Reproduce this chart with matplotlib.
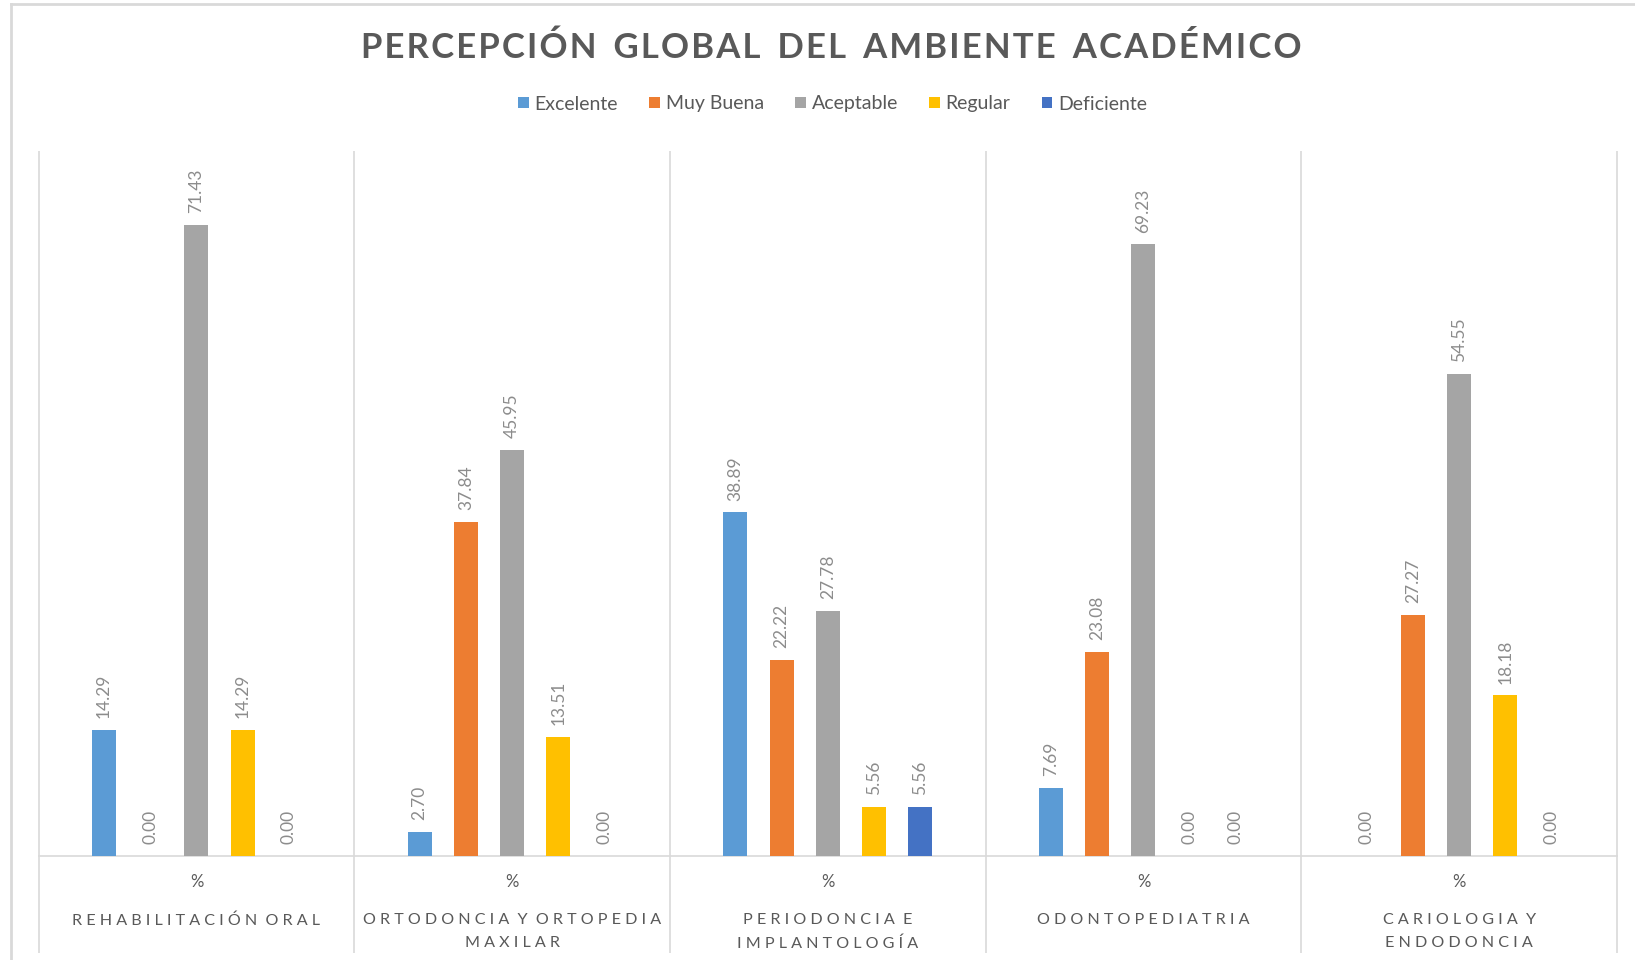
import matplotlib
matplotlib.use("Agg")
import matplotlib.pyplot as plt
from matplotlib.patches import Patch
from matplotlib.lines import Line2D

plt.rcParams['font.family'] = ['Lato', 'DejaVu Sans']

# ---------------- data ----------------
title = "PERCEPCIÓN  GLOBAL  DEL  AMBIENTE  ACADÉMICO"
categories = ["REHABILITACIÓN ORAL", "ORTODONCIA Y ORTOPEDIA\nMAXILAR",
              "PERIODONCIA E\nIMPLANTOLOGÍA", "ODONTOPEDIATRIA",
              "CARIOLOGIA Y\nENDODONCIA"]
sub_label = "%"
series_names = ["Excelente", "Muy Buena", "Aceptable", "Regular", "Deficiente"]
excelente = [14.29, 2.70, 38.89, 7.69, 0.00]
muy_buena = [0.00, 37.84, 22.22, 23.08, 27.27]
aceptable = [71.43, 45.95, 27.78, 69.23, 54.55]
regular = [14.29, 13.51, 5.56, 0.00, 18.18]
deficiente = [0.00, 0.00, 5.56, 0.00, 0.00]
series_values = [excelente, muy_buena, aceptable, regular, deficiente]
colors = ["#5B9BD5", "#ED7D31", "#A5A5A5", "#FFC000", "#4472C4"]

W, H = 1635, 960


def spaced(s, sep=" ", wordsep="  "):
    lines = []
    for line in s.split("\n"):
        words = line.split(" ")
        lines.append(wordsep.join(sep.join(w) for w in words if w))
    return "\n".join(lines)


fig = plt.figure(figsize=(W / 100, H / 100), dpi=100)
fig.patch.set_facecolor("white")

left_px, right_px, top_px, base_px = 38.6, 1617, 151, 856
ax = fig.add_axes([left_px / W, 1 - base_px / H,
                   (right_px - left_px) / W, (base_px - top_px) / H])

n = len(categories)
bar_w = 0.076
step = 0.1465
for k, (name, vals, c) in enumerate(zip(series_names, series_values, colors)):
    xs = [i + (k - 2) * step for i in range(n)]
    ax.bar(xs, vals, width=bar_w, color=c, label=name, zorder=3)
    for x, v in zip(xs, vals):
        ax.annotate(f"{v:.2f}", xy=(x, v), xytext=(0, 8.5),
                    textcoords="offset points", rotation=90,
                    ha="center", va="bottom", fontsize=12.5,
                    color="#8C8C8C", zorder=4)

ax.set_xlim(-0.5, n - 0.5)
ax.set_ylim(0, 79.8)
ax.set_xticks([])
ax.set_yticks([])
for s in ["top", "left", "right"]:
    ax.spines[s].set_visible(False)
ax.spines["bottom"].set_color("#D9D9D9")
ax.spines["bottom"].set_linewidth(1.2)

# group separators extending into the category area
sep_bottom = (base_px - 953) / (base_px - top_px)
ax.vlines([i - 0.5 for i in range(n + 1)], sep_bottom, 1.0,
          transform=ax.get_xaxis_transform(), colors="#D9D9D9",
          linewidth=1.2, clip_on=False, zorder=1)

pct_y = (base_px - 882) / (base_px - top_px)
cat_y = (base_px - 913) / (base_px - top_px)
for i, cat in enumerate(categories):
    ax.text(i, pct_y, sub_label, transform=ax.get_xaxis_transform(),
            ha="center", va="center", fontsize=12, color="#595959")
    ax.text(i, cat_y, spaced(cat, wordsep="  "), transform=ax.get_xaxis_transform(),
            ha="center", va="top", fontsize=11.6, color="#595959",
            linespacing=1.8)

# title
fig.text(0.5085, 1 - 48 / H, spaced(title, sep="\u200a", wordsep="  "),
         ha="center", va="center", fontsize=25, fontweight="bold",
         color="#595959")

# legend
handles = [Patch(facecolor=c, edgecolor="none") for c in colors]
fig.legend(handles, series_names, loc="center", ncol=5,
           bbox_to_anchor=(832.6 / W, 1 - 104 / H), frameon=False,
           fontsize=14, labelcolor="#595959", handlelength=0.55,
           handleheight=0.55, handletextpad=0.3, columnspacing=1.6)

# outer chart border (left and top edges visible)
fig.add_artist(Line2D([11 / W, 11 / W], [0, 1 - 4 / H], transform=fig.transFigure,
                      color="#D9D9D9", linewidth=2))
fig.add_artist(Line2D([11 / W, 1], [1 - 4 / H, 1 - 4 / H], transform=fig.transFigure,
                      color="#D9D9D9", linewidth=2))

fig.savefig("out.png", dpi=100, facecolor="white")
